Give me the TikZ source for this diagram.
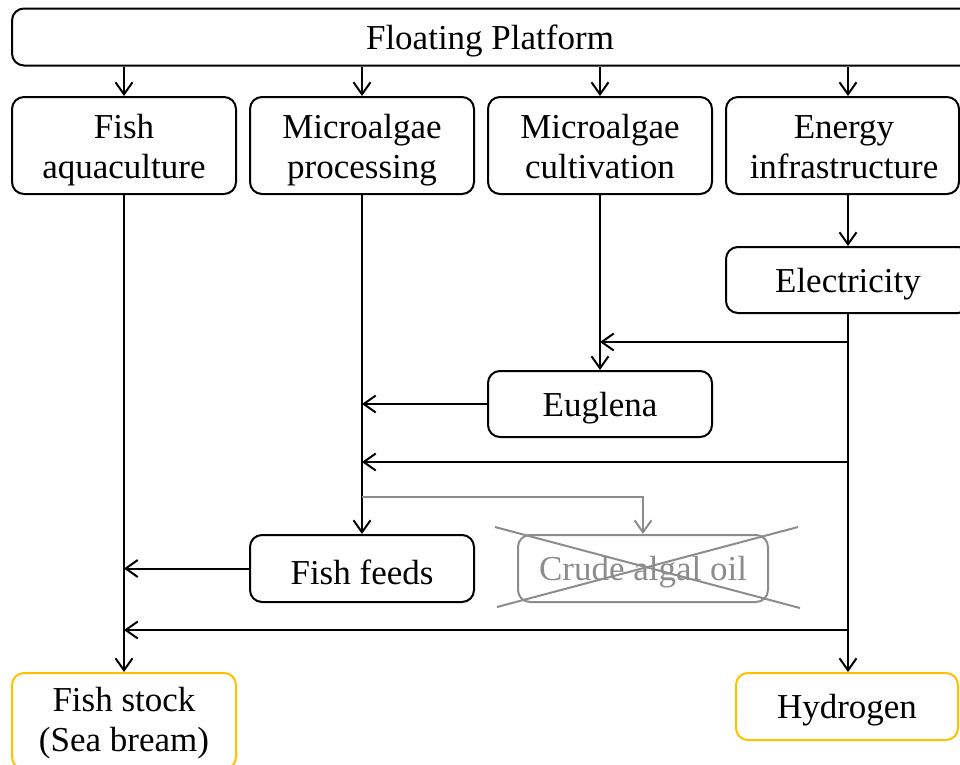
\documentclass[tikz,border=0pt]{standalone}
\usepackage{fontspec}
\setmainfont{Liberation Serif}
\usetikzlibrary{arrows.meta,calc}
\definecolor{boxgold}{HTML}{FFC000}
\definecolor{faded}{HTML}{8C8C8C}
\newcommand{\topst}[1]{\rule{0pt}{#1}}
\newcommand{\botst}[1]{\rule[-#1]{0pt}{#1}}
\tikzset{
  box/.style={draw=black, line width=2pt, rounded corners=12pt, inner sep=0pt,
    align=center, font=\fontsize{35}{40}\selectfont, text=black},
  onebox/.style={box, execute at begin node={\rule{0pt}{32pt}}},
  goldbox/.style={box, draw=boxgold},
  goldonebox/.style={onebox, draw=boxgold},
  fadedbox/.style={onebox, draw=faded, text=faded},
  arr/.style={draw=black, line width=2pt, -{Straight Barb[length=12pt,width=17pt,line width=2pt]}},
  fadedarr/.style={arr, draw=faded, -{Straight Barb[length=12pt,width=17pt,line width=2pt,color=faded]}},
  crossline/.style={draw=faded, line width=2pt}
}
\begin{document}
\begin{tikzpicture}[x=1pt,y=-1pt]
\useasboundingbox (0,0) rectangle (960,764);
\clip (0,0) rectangle (960,764);
% nodes
\node[onebox, minimum width=963pt, minimum height=57pt] (top) at (493.5,37) {\hspace*{-7pt}Floating Platform};
\node[box, minimum width=224pt, minimum height=97pt] (fa) at (124,145.5) {\topst{36pt}Fish\\aquaculture\botst{10pt}};
\node[box, minimum width=224pt, minimum height=97pt] (mp) at (362,145.5) {\topst{36pt}Microalgae\\processing\botst{10pt}};
\node[box, minimum width=224pt, minimum height=97pt] (mc) at (600,145.5) {\topst{36pt}Microalgae\\cultivation\botst{10pt}};
\node[box, minimum width=233pt, minimum height=97pt] (ei) at (842.5,145.5) {\topst{36pt}\hspace*{3pt}Energy\\\hspace*{3pt}infrastructure\botst{10pt}};
\node[onebox, minimum width=244pt, minimum height=66pt] (el) at (848,280) {Electricity};
\node[onebox, minimum width=224pt, minimum height=66pt] (eu) at (600,404) {Euglena};
\node[onebox, minimum width=224pt, minimum height=67pt] (ff) at (362,568.5) {Fish feeds};
\node[fadedbox, minimum width=250pt, minimum height=67pt] (ca) at (643,568.5) {Crude algal oil};
\node[goldbox, minimum width=224pt, minimum height=96pt] (fs) at (124,721) {\topst{31pt}Fish stock\\(Sea bream)\botst{10pt}};
\node[goldonebox, minimum width=222pt, minimum height=67pt] (hy) at (847,706.5) {Hydrogen};
% junction coordinates
\coordinate (j1) at (848,342);
\coordinate (j2) at (848,462);
\coordinate (j3) at (848,630);
\coordinate (g1) at (362,497);
% connectors from the platform
\draw[arr] (top.south -| fa) -- (fa.north);
\draw[arr] (top.south -| mp) -- (mp.north);
\draw[arr] (top.south -| mc) -- (mc.north);
\draw[arr] (top.south -| el) -- (ei.north -| el);
% vertical flows
\draw[arr] (fa.south) -- (fs.north);
\draw[arr] (mp.south) -- (ff.north);
\draw[arr] (mc.south) -- (eu.north);
\draw[arr] (ei.south -| el) -- (el.north);
\draw[arr] (el.south) -- (el.south |- hy.north);
% horizontal flows
\draw[arr] (j1) -- (j1 -| mc);
\draw[arr] (eu.west) -- (eu.west -| mp);
\draw[arr] (j2) -- (j2 -| mp);
\draw[arr] (ff.west) -- (ff.west -| fa);
\draw[arr] (j3) -- (j3 -| fa);
% faded branch to crude algal oil
\draw[fadedarr] (g1) -| (ca.north);
% cross over crude algal oil
\draw[crossline] (495,527) -- (800,608);
\draw[crossline] (497,607) -- (798,527);
\end{tikzpicture}
\end{document}
